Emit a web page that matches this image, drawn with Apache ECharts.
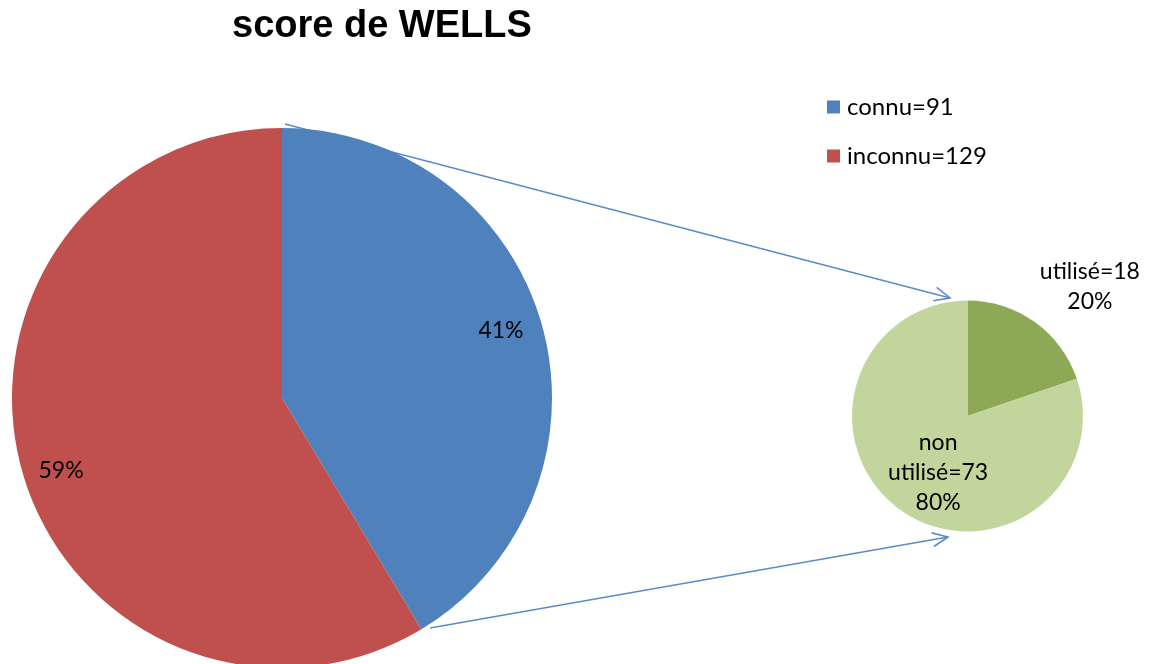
<!DOCTYPE html>
<html>
<head>
<meta charset="utf-8">
<script src="https://cdn.jsdelivr.net/npm/echarts@6/dist/echarts.min.js"></script>
<style>
html,body{margin:0;padding:0;background:#fff;}
#chart{width:1158px;height:664px;}
</style>
</head>
<body>
<div id="chart"></div>
<script>
// Data
const titleText = 'score de WELLS';
const mainNames = ['connu', 'inconnu'];
const mainValues = [91, 129];
const subNames = ['utilisé', 'non utilisé'];
const subValues = [18, 73];

const mainColors = ['#4F81BD', '#C0504D'];
const subColors = ['#8DA955', '#C2D59C'];
const FONT = 'Lato, "Open Sans", sans-serif';

const chart = echarts.init(document.getElementById('chart'), null, {renderer: 'canvas'});

function arrow(x1, y1, x2, y2) {
  const ang = Math.atan2(y2 - y1, x2 - x1);
  const L = 17, a = 0.42;
  const p1 = [x2 - L * Math.cos(ang - a), y2 - L * Math.sin(ang - a)];
  const p2 = [x2 - L * Math.cos(ang + a), y2 - L * Math.sin(ang + a)];
  const st = {stroke: '#5B8BC9', lineWidth: 1.6, fill: null};
  return [
    {type: 'line', shape: {x1, y1, x2, y2}, style: st, silent: true},
    {type: 'polyline', shape: {points: [p1, [x2, y2], p2]}, style: st, silent: true}
  ];
}

const option = {
  backgroundColor: '#ffffff',
  animation: false,
  title: {
    text: titleText,
    left: 227, top: 3,
    textStyle: {fontFamily: '"Liberation Sans", Arial, sans-serif', fontSize: 38, fontWeight: 'bold', color: '#000'}
  },
  legend: {
    orient: 'vertical',
    left: 822, top: 90,
    itemWidth: 13, itemHeight: 13,
    itemGap: 25,
    icon: 'rect',
    data: mainNames,
    formatter: function (name) {
      return name + '=' + mainValues[mainNames.indexOf(name)];
    },
    textStyle: {fontFamily: FONT, fontSize: 24, color: '#000', padding: [0, 0, 0, 2]}
  },
  series: [
    {
      type: 'pie',
      center: [282, 398],
      radius: [0, 270],
      startAngle: 90,
      clockwise: true,
      percentPrecision: 0,
      silent: true,
      label: {
        show: true, position: 'inside', formatter: '{d}%',
        fontFamily: FONT, fontSize: 23, color: '#000'
      },
      labelLine: {show: false},
      labelLayout: function (p) {
        return p.dataIndex === 0 ? {dx: 86, dy: -30} : {dx: -88, dy: 36};
      },
      data: mainNames.map((n, i) => ({name: n, value: mainValues[i], itemStyle: {color: mainColors[i]}}))
    },
    {
      type: 'pie',
      center: [967.5, 416],
      radius: [0, 115.5],
      startAngle: 90,
      clockwise: true,
      percentPrecision: 0,
      silent: true,
      label: {
        show: true, position: 'inside',
        formatter: function (p) {
          return p.name.replace(' ', '\n') + '=' + p.value + '\n' + p.percent + '%';
        },
        fontFamily: FONT, fontSize: 23, color: '#000', lineHeight: 30
      },
      labelLine: {show: false},
      labelLayout: function (p) {
        return p.dataIndex === 0 ? {dx: 87, dy: -80} : {dx: 6, dy: 7};
      },
      data: subNames.map((n, i) => ({name: n, value: subValues[i], itemStyle: {color: subColors[i]}}))
    }
  ],
  graphic: [].concat(arrow(285, 124, 950, 298), arrow(430, 628, 948, 537))
};
chart.setOption(option);
</script>
</body>
</html>
